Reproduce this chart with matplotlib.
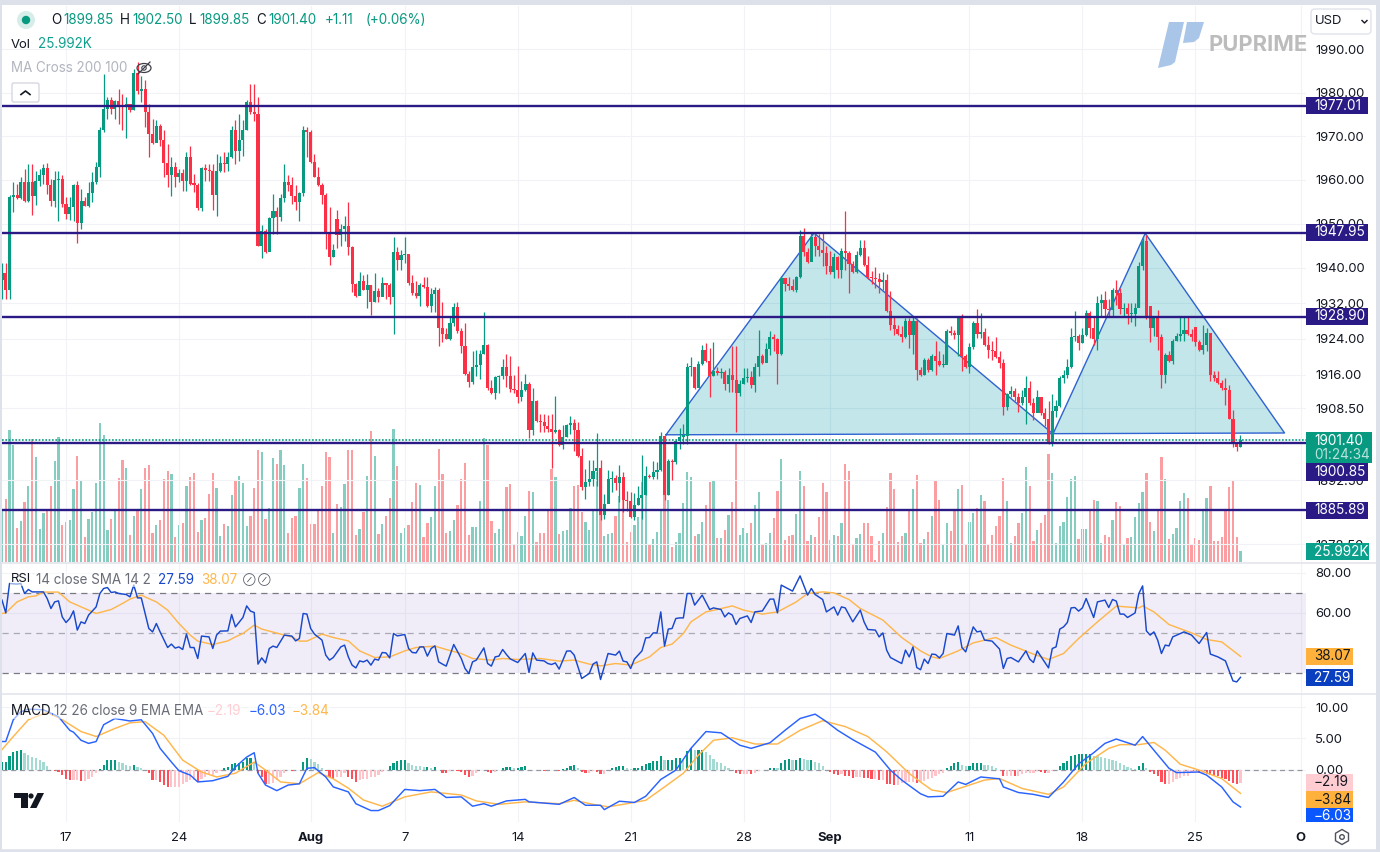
import matplotlib
matplotlib.use('Agg')
import matplotlib.pyplot as plt
from matplotlib.patches import Rectangle, Circle, Ellipse, Polygon, FancyBboxPatch, RegularPolygon
import numpy as np

plt.rcParams['font.family'] = ['Inter', 'DejaVu Sans']

# values, one entry per 4h bar
first_open = 1937.2
open_gaps = {89: 1951.0, 305: 1931.4, 317: 1926.6, 329: 1899.85}

closes = [
    1938.8, 1935, 1956, 1956.6, 1955.9, 1959.6, 1955.2, 1959.6, 1956.4, 1959.8,
    1961.1, 1962.7, 1958.7, 1955.2, 1960, 1960.2, 1954.5, 1952.2, 1953.9, 1958.7,
    1950.1, 1955.2, 1954.1, 1957, 1959.4, 1963, 1971.3, 1976.2, 1978.4, 1976.2,
    1978.1, 1976.8, 1976.6, 1977.4, 1976, 1984.6, 1980.4, 1980.8, 1975.6, 1970.5,
    1968.4, 1972.4, 1969, 1963.8, 1961.1, 1962.9, 1960.6, 1961.5, 1959.8, 1965.3,
    1959, 1958.9, 1953.6, 1962.6, 1962.3, 1961.9, 1956.6, 1962, 1963.9, 1963.5,
    1965.2, 1971.4, 1966.5, 1969.1, 1971.3, 1977.8, 1975.5, 1975.1, 1945, 1948.4,
    1943.6, 1951.2, 1952.8, 1951.4, 1955.9, 1959.6, 1958.7, 1956.4, 1954.9, 1956.9,
    1971.3, 1970.9, 1964, 1960.7, 1958.7, 1956.6, 1947.8, 1942.4, 1944, 1947.5,
    1948.8, 1949.5, 1944.7, 1936.3, 1933.6, 1936.9, 1935, 1936, 1932.3, 1934.7,
    1933.4, 1936.5, 1936.2, 1933.4, 1943.6, 1941.7, 1942.9, 1943.1, 1936.5, 1934.3,
    1933.6, 1936, 1935.6, 1931.4, 1934, 1935, 1926.4, 1925.1, 1924, 1927.6,
    1931.2, 1925.7, 1922.4, 1916.1, 1914.3, 1917.8, 1918.2, 1920.7, 1922.6, 1913.1,
    1911.8, 1915.4, 1915.6, 1917.6, 1915.6, 1912.8, 1912.6, 1911, 1912.6, 1913.9,
    1903.7, 1910, 1905.7, 1905.4, 1904.5, 1903.8, 1903.2, 1903.7, 1900.3, 1902.2,
    1904.7, 1905.2, 1903.7, 1897.8, 1891, 1892.1, 1892.8, 1894.5, 1895.3, 1884.8,
    1887.4, 1892.9, 1893, 1891.9, 1893.2, 1888.1, 1888, 1884.5, 1887.2, 1888.7,
    1889.4, 1893.4, 1893.2, 1894.3, 1894.8, 1902.4, 1889.4, 1896.8, 1896.5, 1901.2,
    1902.2, 1902.4, 1917.6, 1917.8, 1913, 1918.4, 1921.4, 1919.1, 1915.6, 1916.9,
    1916.3, 1916.6, 1913.9, 1915.8, 1914.8, 1911.8, 1914, 1915.2, 1915.4, 1913.6,
    1917.8, 1920.1, 1918.6, 1921.8, 1924.4, 1924, 1920.5, 1937.8, 1936.3, 1935.9,
    1935, 1937.9, 1947.2, 1943.6, 1941.2, 1947, 1944.9, 1944.1, 1943.4, 1940.3,
    1939.1, 1942.4, 1939.6, 1943.9, 1943.4, 1940.9, 1939.1, 1942.9, 1944.4, 1940.6,
    1937.9, 1937.6, 1937.4, 1936.8, 1937.2, 1930.3, 1927.2, 1926.1, 1925.1, 1924.4,
    1928.1, 1924.8, 1928.1, 1917.1, 1916, 1919.3, 1917.1, 1920.1, 1919.1, 1918.1,
    1918.2, 1925.7, 1925.2, 1924.9, 1928.6, 1920.1, 1917.6, 1922.1, 1927.6, 1925.1,
    1925.6, 1922.6, 1921.6, 1921.2, 1919.9, 1918.6, 1908.7, 1911.7, 1912.4, 1910.9,
    1909.7, 1910.9, 1913.1, 1909.6, 1907.5, 1910.9, 1907.5, 1906.2, 1901, 1907.9,
    1908.9, 1915.2, 1916, 1917.7, 1924.4, 1924.6, 1923.1, 1924.9, 1929.9, 1926.5,
    1923.9, 1932.1, 1932.7, 1930.8, 1930.5, 1934.9, 1934.4, 1930.6, 1931, 1929.5,
    1929.6, 1931, 1940.4, 1946, 1928.7, 1926.5, 1928.9, 1924.4, 1916, 1920.3,
    1919, 1923.6, 1924.6, 1925.1, 1925.9, 1925, 1924.4, 1923.3, 1921.6, 1922.6,
    1925.4, 1915.8, 1915.2, 1914.2, 1913, 1912.6, 1906.2, 1900.7, 1899.9, 1901.4,
]

highs = [
    1941, 1941, 1956.5, 1959.4, 1959, 1960.6, 1962.5, 1963.5, 1963.6, 1962.1,
    1962.5, 1963.5, 1963.9, 1960.2, 1962, 1962.1, 1961.2, 1956, 1956, 1959,
    1959.8, 1957.9, 1956, 1959.4, 1961.7, 1964, 1972.2, 1984.2, 1979, 1978.9,
    1978.4, 1980.8, 1979.7, 1978.9, 1977.4, 1985.4, 1987, 1983.9, 1983, 1977.4,
    1974, 1973.7, 1972.8, 1971.3, 1968.2, 1965.2, 1964, 1962.5, 1962.5, 1966.3,
    1967.8, 1961.3, 1959.2, 1962.9, 1963.6, 1963.6, 1963.6, 1965.8, 1965.5, 1966.3,
    1966.3, 1972.4, 1973.7, 1975, 1973.6, 1978.3, 1982, 1982, 1979, 1949.8,
    1948.8, 1951.4, 1956.7, 1953.7, 1956.8, 1963.5, 1961, 1960.6, 1958.7, 1957.2,
    1972.4, 1972, 1971.3, 1965.9, 1962.9, 1959.2, 1957, 1953.7, 1945.3, 1953,
    1950, 1951.8, 1954.9, 1945, 1936.5, 1939, 1938.4, 1938.6, 1936, 1938.8,
    1935.5, 1937.9, 1936.5, 1936.6, 1947, 1944.7, 1944, 1947, 1943, 1938.4,
    1937, 1936.5, 1938, 1938, 1935.4, 1935.6, 1935.4, 1932.2, 1926.5, 1928.8,
    1932.1, 1932.3, 1926.5, 1927.6, 1916.7, 1921.2, 1921.4, 1921.6, 1930, 1922.8,
    1914.8, 1915.6, 1916, 1919.5, 1920.7, 1920.2, 1916, 1917.9, 1914.5, 1916.1,
    1914.4, 1913, 1910.3, 1907.3, 1907.3, 1907, 1907.2, 1911.2, 1903.9, 1904.7,
    1905.1, 1906.7, 1906.2, 1905.4, 1899.6, 1895, 1897, 1897, 1903, 1897,
    1889.6, 1894.8, 1894.6, 1893.8, 1896, 1894.3, 1890.2, 1890, 1889.7, 1891.3,
    1898.1, 1895.7, 1894, 1896.8, 1896.5, 1903.3, 1902.5, 1897.2, 1897.3, 1901.6,
    1904, 1905, 1918.6, 1920, 1917.8, 1919.1, 1922.6, 1923.1, 1922, 1923.3,
    1917.8, 1917.5, 1917.1, 1917.5, 1922.4, 1922.4, 1914.8, 1917.5, 1917.5, 1916.8,
    1918.6, 1925.9, 1920.5, 1923.1, 1925.7, 1925, 1924.2, 1938.1, 1937.6, 1937.9,
    1937.4, 1938.2, 1948.5, 1948.9, 1944.5, 1947.9, 1947.6, 1947.6, 1947.8, 1945,
    1943.8, 1943.4, 1942.7, 1944.4, 1952.8, 1943.8, 1941.5, 1943.9, 1946.2, 1946.4,
    1942.7, 1939.3, 1940.2, 1938.9, 1939, 1938.5, 1934.8, 1928.8, 1927.2, 1926.8,
    1928.6, 1928.7, 1929, 1928.6, 1917.8, 1919.7, 1919.7, 1920.5, 1923.5, 1921.2,
    1920.6, 1926.1, 1926.9, 1926, 1928.9, 1929.5, 1920.6, 1923.1, 1928, 1930.6,
    1929.9, 1926.5, 1924.6, 1923.5, 1924.4, 1921.2, 1919.4, 1911.9, 1913.5, 1913,
    1911.8, 1912.6, 1915.6, 1914.5, 1910.7, 1912.6, 1911.1, 1908.5, 1910.1, 1911.6,
    1910.4, 1915.6, 1917.1, 1919.4, 1926.5, 1930.2, 1925, 1926.5, 1930.4, 1930.2,
    1929.1, 1933.6, 1934, 1934.8, 1933, 1935.4, 1937.2, 1935.4, 1932.1, 1932.1,
    1932, 1932.1, 1941.2, 1947.2, 1947.5, 1931.4, 1929.1, 1930.4, 1925, 1920.9,
    1921.2, 1923.9, 1925.4, 1928.8, 1928.8, 1929.1, 1926.1, 1926.6, 1923.8, 1927.1,
    1926.5, 1925.4, 1916.9, 1916.7, 1914.8, 1915.2, 1913.6, 1908.1, 1901.1, 1902.5,
]

lows = [
    1933, 1933, 1933, 1952.6, 1955.5, 1955.6, 1954.9, 1955, 1952, 1954.3,
    1958.5, 1959, 1956.8, 1954, 1953.7, 1950.7, 1953.7, 1951, 1950.9, 1950.7,
    1945.5, 1948.8, 1954, 1953.7, 1954.9, 1959, 1960.6, 1970.9, 1974, 1975,
    1974, 1972.8, 1971.3, 1969.6, 1975.6, 1976, 1979.8, 1977.8, 1972, 1965.2,
    1968.2, 1969, 1967.8, 1960.6, 1958.3, 1956.4, 1958.3, 1959.4, 1957.5, 1957.5,
    1958.9, 1957.2, 1953, 1952.8, 1959.8, 1959.8, 1953, 1951.8, 1961.8, 1961.8,
    1962, 1965, 1963.6, 1964.3, 1965.5, 1971.3, 1975, 1973.4, 1945, 1942.1,
    1943.4, 1945, 1947.6, 1947.6, 1950.5, 1955, 1957.5, 1954.5, 1953, 1950.7,
    1956.4, 1965.2, 1963.9, 1960.6, 1958.5, 1954.5, 1944.2, 1940.7, 1942.4, 1944.4,
    1945, 1946, 1943, 1934.6, 1933.5, 1933.9, 1934.9, 1931, 1929.3, 1932.2,
    1932.2, 1933.6, 1933, 1931.9, 1925, 1939.5, 1939.5, 1941, 1936, 1933.8,
    1933.2, 1931.4, 1935.5, 1931.2, 1930, 1930, 1922.5, 1923.3, 1923.9, 1923.7,
    1926.9, 1925.4, 1920.9, 1916, 1913.3, 1914, 1915.6, 1915.1, 1920.5, 1912.6,
    1911.6, 1910.5, 1911.8, 1915.1, 1913.3, 1912.1, 1911.8, 1909.7, 1910, 1912.4,
    1901.8, 1902.6, 1905.4, 1903.2, 1903.2, 1903.2, 1895.3, 1903, 1900.1, 1899.5,
    1902, 1902.8, 1899, 1897.7, 1890.3, 1888.5, 1891.2, 1891.2, 1891.2, 1883.8,
    1884, 1887.8, 1890, 1890.3, 1887.8, 1885.5, 1885.8, 1884.2, 1883.7, 1887,
    1884, 1889.2, 1893, 1892.8, 1892.8, 1894.6, 1888.3, 1889.3, 1892.7, 1896.2,
    1899.4, 1900.6, 1900.6, 1915.6, 1912.8, 1915.6, 1918.2, 1918.9, 1911, 1915.6,
    1916, 1915.2, 1912.6, 1912.2, 1912.2, 1903.2, 1911.2, 1914, 1914.4, 1913,
    1912.1, 1915.6, 1918.4, 1918.8, 1920.3, 1921.2, 1913.9, 1920.3, 1934.8, 1935,
    1934.8, 1934.6, 1937.6, 1942.7, 1941, 1941.5, 1942.6, 1942.6, 1940.4, 1938.7,
    1938.7, 1937.8, 1937.8, 1937.8, 1939.6, 1934.4, 1938.9, 1938.9, 1942.7, 1940.4,
    1937.4, 1936.3, 1935.5, 1934.4, 1935, 1930, 1926, 1924.8, 1924.8, 1923.4,
    1924.2, 1922, 1920.6, 1914.8, 1915.6, 1915.9, 1916.6, 1916.7, 1915.8, 1917.9,
    1917.8, 1918.7, 1924.8, 1923.9, 1920.1, 1916.7, 1917.5, 1916.3, 1921.8, 1924.1,
    1924.1, 1922.4, 1919.7, 1919.3, 1919.7, 1917.5, 1907.1, 1908.1, 1911.1, 1910,
    1907.7, 1909.2, 1905.1, 1909.2, 1905.8, 1907.7, 1907, 1904.5, 1900.6, 1900.2,
    1906.6, 1908.8, 1914.1, 1915.2, 1917.5, 1923.5, 1921.6, 1923.1, 1924.6, 1924.2,
    1922.7, 1921.6, 1929.1, 1928.8, 1929, 1928.8, 1931.7, 1929.5, 1929.1, 1927.4,
    1927.8, 1926.9, 1931.2, 1939.5, 1928.4, 1923.3, 1924.6, 1921.6, 1913, 1914.1,
    1918.8, 1918.4, 1923.5, 1923.5, 1923.5, 1924.8, 1923.5, 1922.4, 1921.2, 1920.5,
    1921.2, 1914.5, 1914.6, 1913.9, 1912.6, 1909.2, 1906, 1899.8, 1898.9, 1899.85,
]

volume_k = [
    123, 149, 312, 276, 80, 97, 142, 179, 290, 248,
    78, 116, 120, 179, 238, 295, 87, 94, 99, 172,
    250, 194, 59, 102, 118, 187, 328, 300, 76, 102,
    123, 198, 241, 222, 64, 109, 123, 172, 222, 229,
    68, 87, 99, 196, 215, 208, 59, 87, 92, 179,
    201, 210, 71, 99, 104, 161, 210, 175, 61, 90,
    85, 158, 191, 203, 187, 85, 109, 175, 264, 260,
    102, 127, 246, 231, 264, 229, 68, 104, 109, 175,
    231, 198, 90, 90, 123, 179, 260, 248, 68, 137,
    130, 184, 264, 264, 64, 78, 118, 203, 309, 250,
    66, 90, 109, 151, 314, 227, 68, 80, 87, 142,
    187, 182, 59, 92, 106, 179, 267, 208, 68, 73,
    99, 135, 196, 233, 64, 83, 83, 144, 292, 276,
    97, 68, 78, 123, 177, 184, 42, 71, 61, 109,
    168, 165, 47, 68, 68, 123, 220, 201, 66, 73,
    76, 127, 179, 182, 118, 94, 76, 123, 212, 139,
    61, 66, 68, 109, 156, 154, 47, 71, 87, 106,
    189, 170, 42, 54, 71, 123, 170, 146, 35, 47,
    68, 139, 212, 201, 61, 66, 94, 135, 189, 191,
    57, 57, 76, 111, 142, 283, 64, 80, 68, 92,
    135, 165, 42, 45, 68, 104, 168, 243, 52, 61,
    64, 113, 215, 179, 50, 64, 59, 106, 187, 165,
    52, 64, 61, 92, 231, 215, 40, 57, 66, 92,
    92, 61, 5, 50, 68, 130, 210, 172, 47, 61,
    69, 121, 172, 205, 44, 54, 71, 109, 194, 146,
    40, 93, 73, 121, 172, 182, 40, 94, 116, 127,
    158, 144, 40, 64, 85, 109, 198, 144, 45, 61,
    93, 116, 224, 179, 50, 76, 93, 111, 255, 210,
    45, 85, 94, 153, 196, 203, 54, 78, 78, 123,
    146, 144, 45, 64, 59, 99, 142, 132, 42, 57,
    59, 106, 139, 165, 210, 94, 73, 120, 248, 196,
    54, 66, 80, 144, 163, 151, 40, 57, 52, 123,
    151, 179, 50, 50, 59, 123, 177, 191, 59, 26,
]

rsi_bars = [
    0, 1, 2, 4, 5, 6, 7, 8, 11, 12,
    13, 14, 15, 16, 17, 18, 19, 20, 21, 22,
    23, 25, 26, 27, 28, 29, 30, 31, 33, 34,
    35, 36, 37, 39, 40, 41, 42, 44, 45, 46,
    47, 48, 49, 50, 51, 52, 53, 55, 56, 57,
    58, 60, 61, 62, 64, 65, 66, 67, 68, 69,
    70, 71, 72, 73, 75, 77, 78, 79, 80, 81,
    82, 83, 85, 86, 87, 88, 90, 91, 92, 93,
    94, 95, 96, 97, 98, 99, 100, 101, 102, 103,
    104, 105, 107, 108, 109, 110, 111, 112, 113, 114,
    115, 116, 117, 118, 120, 122, 123, 124, 125, 126,
    128, 129, 130, 131, 132, 133, 134, 135, 137, 139,
    140, 141, 142, 144, 145, 146, 147, 148, 150, 151,
    152, 154, 156, 157, 158, 159, 161, 163, 164, 165,
    166, 167, 168, 170, 171, 172, 173, 174, 175, 176,
    177, 178, 179, 180, 181, 182, 183, 184, 186, 188,
    189, 191, 192, 193, 194, 195, 196, 198, 199, 200,
    202, 204, 205, 206, 207, 210, 212, 214, 215, 216,
    218, 219, 221, 222, 223, 224, 226, 228, 229, 230,
    232, 233, 234, 235, 236, 239, 240, 241, 242, 243,
    244, 245, 246, 247, 248, 249, 250, 251, 253, 254,
    255, 256, 258, 259, 260, 261, 263, 265, 266, 267,
    268, 270, 272, 273, 274, 275, 278, 279, 280, 281,
    282, 283, 284, 285, 286, 287, 288, 290, 291, 293,
    294, 295, 296, 297, 298, 299, 301, 302, 303, 304,
    305, 306, 307, 308, 309, 310, 311, 313, 314, 316,
    318, 320, 321, 323, 325, 327, 328, 329,
]
rsi_values = [
    66.2, 59.8, 74.5, 74.2, 74.5, 69.5, 71.5, 70.3, 70.3, 67,
    62, 65.3, 65.8, 57.8, 55, 57, 60.8, 51.2, 55.3, 54.5,
    58.7, 62.8, 69.5, 72, 72.5, 70, 70.3, 69.5, 69, 67.8,
    73.7, 67.3, 67.3, 52, 50.3, 54.5, 50.3, 42.5, 44.2, 42.2,
    42.8, 41.5, 49.2, 42.5, 42.5, 37, 48.2, 47.8, 42, 48.7,
    50.7, 50.8, 59, 52.8, 57.5, 63.3, 60.7, 60, 34.2, 37.3,
    34.8, 42, 43.2, 42.5, 48.7, 48.2, 45.8, 47, 59.5, 59.2,
    52, 49.2, 46.2, 38.7, 36.2, 37.5, 42.8, 43.7, 37.8, 33.7,
    32.3, 35.8, 35.3, 36.2, 33.7, 36.7, 36.2, 40, 39.8, 37.3,
    49.5, 48.3, 49, 42, 40, 39.8, 42.8, 42.8, 38.2, 42,
    43.3, 35.3, 34.2, 33.2, 44, 37, 32, 29.5, 35.3, 36.2,
    42.3, 34.5, 33.2, 37.8, 38.2, 41.5, 39, 36.8, 35, 39.5,
    30, 39.8, 36.2, 35.8, 34.5, 34, 34.8, 31.7, 40.7, 40.8,
    38.7, 27, 29.5, 34.2, 35.3, 26.5, 39.5, 38.7, 40.7, 35.7,
    35.3, 32, 36.7, 40.8, 47.3, 47.5, 49.8, 49.8, 60.3, 43.2,
    51.7, 52, 57, 57.3, 57.3, 69.5, 69.5, 63.7, 68.7, 61.5,
    62.3, 61.5, 57.8, 59.8, 58.7, 54, 57, 58.3, 55, 60.3,
    60.8, 66.7, 66.7, 59.8, 73.7, 70.7, 78.3, 68.7, 72, 69,
    66.5, 60.3, 62.8, 58.7, 62.8, 62.3, 55.3, 61.2, 55.3, 51.5,
    51.2, 47.8, 49.8, 41.2, 37.5, 34.5, 41.2, 37.8, 42.8, 32.5,
    31.4, 36.7, 34.5, 39.2, 39, 37.3, 39.5, 49.5, 48.7, 53.3,
    42.5, 40.3, 52.8, 50.3, 50.7, 46.2, 45.7, 41.7, 32, 37,
    37.5, 35.3, 40.8, 36.7, 35, 40.8, 32.3, 42, 42.8, 51.7,
    52.8, 55, 62.3, 62.5, 60.7, 62.3, 67, 57.5, 65.3, 66.2,
    62.5, 66.5, 65.7, 59.2, 59.2, 57.5, 59.8, 69.5, 73.3, 50.8,
    48.7, 50.3, 46.2, 39.5, 43.7, 43.3, 47.8, 49.5, 50.3, 48.7,
    44.5, 50, 39.2, 37.8, 35.8, 25.8, 25.3, 27.59,
]

rsi_sma_bars = [
    0, 1, 4, 7, 9, 11, 15, 18, 22, 25,
    29, 32, 34, 37, 38, 41, 44, 47, 50, 52,
    56, 60, 62, 64, 67, 69, 74, 77, 79, 81,
    85, 88, 92, 95, 99, 103, 107, 110, 115, 118,
    122, 125, 130, 133, 137, 143, 148, 152, 156, 159,
    163, 167, 172, 175, 178, 181, 183, 187, 190, 194,
    197, 202, 206, 211, 214, 218, 221, 225, 228, 234,
    239, 244, 247, 249, 254, 258, 264, 268, 274, 278,
    282, 286, 291, 296, 302, 303, 306, 310, 316, 320,
    324, 329,
]
rsi_sma_values = [
    59.5, 59.8, 65.3, 67.8, 68.3, 70.2, 70.2, 65.3, 62, 59.5,
    61.5, 64.5, 66.7, 68.7, 67.8, 65.3, 61.2, 54.5, 48.7, 45.7,
    44, 45.8, 47.8, 49.5, 53.7, 51.7, 49.2, 47.8, 45.7, 45.7,
    49.2, 47.5, 45.8, 40.8, 37.5, 37.8, 40.8, 42.5, 43.2, 41.5,
    39.5, 37, 36.2, 37, 36.5, 37, 35.7, 36.2, 34.2, 33.3,
    34.5, 33.7, 37.8, 42.5, 44.2, 49.5, 55.3, 60.3, 61.5, 63.3,
    61.2, 59.2, 60.3, 65.3, 69.5, 70.3, 69.8, 66.5, 62, 56.2,
    47.5, 40.8, 37.8, 37, 40.8, 44.8, 47.5, 43.7, 39.2, 36.5,
    39.5, 47, 55.3, 63.2, 62.3, 63.3, 60.3, 54, 49.8, 46.5,
    45.3, 38.07,
]

macd_bars = [
    0, 1, 3, 5, 7, 11, 15, 18, 19, 21,
    23, 25, 27, 30, 34, 37, 40, 42, 45, 47,
    50, 52, 56, 60, 62, 65, 67, 68, 70, 73,
    76, 79, 81, 83, 86, 88, 92, 94, 98, 100,
    103, 107, 111, 115, 118, 122, 125, 128, 130, 134,
    139, 140, 148, 152, 155, 159, 160, 164, 168, 171,
    175, 179, 183, 187, 191, 196, 199, 204, 208, 212,
    216, 219, 222, 226, 232, 236, 239, 244, 246, 250,
    254, 256, 260, 265, 266, 270, 274, 278, 282, 286,
    290, 293, 296, 301, 303, 306, 310, 312, 318, 320,
    324, 327, 329,
]
macd_values = [
    4.5, 4.5, 8, 9.3, 9.7, 9.6, 8.5, 6.3, 6, 4.7,
    4.2, 4.5, 7.2, 8.2, 7.8, 8, 5.8, 3.4, 1.2, -0.2,
    -0.9, -2, -1.8, -1.1, 0.4, 2, 2.7, -0.6, -2.5, -3.4,
    -2.5, -2.3, 0.2, 0.3, -1.2, -2.8, -3.6, -5.5, -6.6, -6.6,
    -5.8, -3.2, -3.4, -3.2, -4.5, -4.4, -5.9, -5.5, -5.9, -5.05,
    -4.8, -5.2, -5.6, -4.5, -5.75, -5.75, -6.45, -5.1, -5.3, -4.3,
    -1.6, -0.1, 3.4, 6.1, 5.9, 3.9, 3.4, 4.3, 6.3, 8.2,
    8.9, 7.7, 6.3, 4.8, 2.8, -0.1, -1.7, -3.9, -4.4, -4.3,
    -2, -2.4, -1.2, -1.5, -2.8, -3.7, -4, -4.5, -2, 0.9,
    2.7, 4.2, 4.9, 3.9, 5.3, 3.1, 0.2, -0.5, -0.4, -0.9,
    -2.8, -5.2, -6.03,
]

signal_bars = [
    0, 3, 7, 12, 16, 21, 25, 30, 34, 38,
    43, 48, 53, 57, 62, 67, 70, 74, 79, 84,
    88, 92, 96, 101, 107, 114, 122, 126, 132, 139,
    148, 152, 157, 161, 166, 171, 176, 181, 185, 189,
    194, 200, 206, 212, 218, 224, 230, 235, 241, 244,
    247, 251, 256, 261, 265, 271, 278, 282, 288, 294,
    297, 302, 306, 309, 313, 318, 324, 329,
]
signal_values = [
    3.2, 5.3, 8, 9.2, 8, 6.1, 5.3, 6.6, 7.5, 7.7,
    5.5, 1.5, -0.4, -1.2, -0.6, 1.2, -0.1, -2, -2.3, -0.5,
    -1.5, -3, -4.9, -5.9, -4.4, -3.6, -4.1, -5.05, -5.6, -5.2,
    -5.5, -4.95, -5.6, -6, -5.5, -4.95, -2.8, -0.6, 2.3, 4.7,
    5.1, 4.1, 4.1, 6.3, 7.85, 6.9, 5.3, 2.85, -0.65, -2,
    -3.3, -3.7, -2.7, -1.7, -1.45, -3.05, -4, -2.8, 1, 3.4,
    4, 4, 4.35, 3.1, 0.85, -0.1, -1.45, -3.84,
]

hist_values = [
    1.2, 1.2, 2.1, 2.8, 3, 3.1, 2.6, 2.4, 2, 1.8,
    1.5, 1.2, 0.6, 0, -0.2, -0.4, -0.9, -1.6, -1.7, -1.7,
    -1.7, -1.8, -1.8, -1.5, -1.2, -0.6, 0.1, 0.7, 1.5, 1.5,
    1.5, 1.2, 1, 0.7, 0.6, 0.7, 0.4, 0.3, -0.1, -0.6,
    -1.7, -1.7, -2, -2.5, -2.8, -2.8, -2.8, -2.8, -2.3, -2,
    -1.7, -1.7, -2, -1.45, -1.2, -0.9, -0.9, -0.5, -0.2, 0.3,
    0.4, 0.9, 1.1, 1.1, 1.2, 1.8, 1.8, 1.2, -0.6, -1.2,
    -2.4, -2.3, -2.15, -1.7, -1.2, -0.6, -0.1, -0.2, -0.1, 0,
    1.2, 1.9, 1.7, 1.2, 0.9, 0.3, -0.2, -1.2, -1.45, -1.2,
    -1.2, -0.6, -1.2, -1.45, -2, -1.7, -1.6, -1.45, -1.2, -1.2,
    -0.9, -0.4, 0, 0.5, 1, 1.3, 1.5, 1.6, 1.1, 0.7,
    0.6, 0.5, 0.4, 0.4, 0.3, 0.4, -0.1, -0.5, -0.6, -0.2,
    -0.1, -0.2, -0.4, -0.9, -1.2, -1, -0.6, 0, -0.1, -0.4,
    -0.5, -0.4, 0, 0.2, 0.4, 0.4, 0.3, 0.3, 0.4, 0.5,
    0, -0.1, -0.1, -0.15, -0.2, -0.1, -0.1, -0.15, -0.25, 0.05,
    0.3, 0.6, 0.7, 0.3, -0.4, -0.5, -0.5, -0.3, -0.4, -0.7,
    -0.7, 0, 0.2, 0.4, 0.5, 0.5, 0.3, 0.1, 0.2, 0.3,
    0.5, 0.9, 1.1, 1.3, 1.4, 2.1, 1.5, 1.5, 1.6, 1.9,
    1.9, 1.6, 2.9, 3.4, 3.2, 3.2, 3.2, 2.8, 2.3, 1.7,
    1.2, 1.1, 0.6, 0.3, 0, -0.6, -0.7, -0.7, -0.7, -0.8,
    -0.5, -0.3, -0.1, 0, 0.2, 0.3, 0.2, 1, 1.5, 1.7,
    1.6, 1.6, 1.9, 1.7, 1.6, 1.6, 1.2, 1, 0.6, -0.05,
    -0.4, -0.7, -0.9, -0.8, -1, -1.1, -1.4, -1.2, -1.2, -1.3,
    -1.4, -1.6, -1.6, -1.7, -1.7, -2.3, -2.4, -2.5, -2.5, -2.2,
    -2, -2, -2, -2.1, -2, -1.9, -1.6, -1.3, -1, -0.8,
    -0.5, 0.2, 0.6, 1, 1.2, 0.8, 0.5, 0.6, 1, 1.1,
    1.1, 0.8, 0.7, 0.5, 0.3, 0, -1, -1, -1, -1.1,
    -1.1, -0.7, -0.5, -0.5, -0.5, -0.3, -0.4, -0.6, -0.6, -0.2,
    0, 0.6, 1, 1.3, 2.1, 2.4, 2.5, 2.5, 2.5, 2.5,
    2.2, 2.1, 2, 1.8, 1.7, 1.6, 1.4, 1, 0.8, 0.4,
    0.2, 0.1, 0.5, 1, 0.2, -0.4, -0.8, -1.1, -2, -2.3,
    -2.3, -2, -1.6, -1.3, -1.1, -1, -0.5, -0.3, -0.6, -0.6,
    -0.8, -0.9, -1, -1.1, -1.3, -1.5, -1.8, -2.2, -2.3, -2.19,
]

level_prices = [1977.01, 1947.95, 1928.90, 1900.85, 1885.89]
last_price = 1901.40
pattern_bars = [176.4, 215.7, 279.2, 303.7, 340.7]
pattern_prices = [1902.6, 1947.9, 1902.8, 1947.8, 1903.0]

price_ticks = [1990, 1980, 1970, 1960, 1950, 1940, 1932, 1924, 1916, 1908.5, 1892.5, 1878.5]
rsi_ticks = [80, 60]
macd_ticks = [10, 5, 0]
time_tick_bars = [17, 47, 82, 107, 137, 167, 197, 220, 257, 287, 317, 345]
time_tick_labels = ['17', '24', 'Aug', '7', '14', '21', '28', 'Sep', '11', '18', '25', 'O']
bold_labels = ['Aug', 'Sep', 'O']

GREEN = '#089981'
RED = '#fb2f45'
NAVY = '#2a1a86'
GRID = '#f0f2f6'
INK = '#131722'
FS = 9.4

bars = np.arange(len(closes))
closes = np.array(closes)
highs = np.array(highs)
lows = np.array(lows)
opens = np.concatenate([[first_open], closes[:-1]])
for k, v in open_gaps.items():
    opens[k] = v
hist_values = np.array(hist_values)
volume_k = np.array(volume_k)
is_up = closes >= opens


def pane(top, bottom, left=2, right=1306, z=1):
    ax = fig.add_axes([left / 1380, 1 - bottom / 852, (right - left) / 1380, (bottom - top) / 852], zorder=z)
    ax.patch.set_alpha(0)
    for s in ax.spines.values():
        s.set_visible(False)
    ax.set_xlim(0, 346.4)
    ax.set_xticks(time_tick_bars)
    ax.set_xticklabels([])
    ax.grid(True, color=GRID, lw=0.8, zorder=0)
    ax.set_axisbelow(True)
    ax.yaxis.tick_right()
    ax.tick_params(axis='both', length=0, labelsize=FS, labelcolor=INK, pad=6.5)
    return ax


fig = plt.figure(figsize=(13.8, 8.52), dpi=100, facecolor='#dde1ea')

back = fig.add_axes([0, 0, 1, 1], zorder=0)
back.set_xlim(0, 1380)
back.set_ylim(852, 0)
back.axis('off')
back.add_patch(Rectangle((2, 5), 1374, 845, fc='white', ec='none'))

# volume sits under the candles in the same pane
vol = pane(6, 562, z=1)
vol.set_ylim(0, 1313)
vol.set_yticks([])
vol.grid(False)
vol.set_xticks([])
vol_colors = np.where(is_up, '#84cdc0', '#fb9ea2')
vol.bar(bars, volume_k, width=0.6, color=vol_colors, linewidth=0)

price = pane(6, 562, z=2)
price.set_yscale('log')
price.set_ylim(1874.6, 2000.1)
price.yaxis.set_minor_locator(plt.NullLocator())
price.yaxis.set_minor_formatter(plt.NullFormatter())
price.set_yticks(price_ticks)
price.set_yticklabels(['%.2f' % p for p in price_ticks])

price.add_patch(Polygon(list(zip(pattern_bars, pattern_prices)), closed=True, fc=(0, 0.592, 0.655, 0.24),
                        ec='none', zorder=1))
price.plot(pattern_bars + pattern_bars[:1], pattern_prices + pattern_prices[:1], color='#2f62d2', lw=1, zorder=2)

candle_colors = np.where(is_up, GREEN, RED)
body_lo = np.minimum(opens, closes)
body_hi = np.maximum(np.maximum(opens, closes), body_lo + 0.25)
price.vlines(bars, lows, highs, colors=candle_colors, lw=0.9, zorder=3)
price.bar(bars, body_hi - body_lo, bottom=body_lo, width=0.82, color=candle_colors, linewidth=0, zorder=4)

for level in level_prices:
    price.axhline(level, color=NAVY, lw=1.7, zorder=5)
price.axhline(last_price, color=GREEN, lw=1.2, ls=(0, (1, 1)), zorder=6)

rsi = pane(563, 693, z=2)
rsi.set_ylim(19.75, 84.75)
rsi.set_yticks(rsi_ticks)
rsi.set_yticklabels(['%.2f' % t for t in rsi_ticks])
rsi.axhspan(30, 70, color='#7e57c2', alpha=0.1, lw=0, zorder=1)
rsi.axhline(70, color='#787b86', lw=0.9, ls=(0, (5, 4)), zorder=2)
rsi.axhline(50, color='#a8abb4', lw=0.9, ls=(0, (5, 4)), zorder=2)
rsi.axhline(30, color='#787b86', lw=0.9, ls=(0, (5, 4)), zorder=2)
rsi.plot(rsi_bars, rsi_values, color='#1848cc', lw=1.05, zorder=4)
rsi.plot(rsi_sma_bars, rsi_sma_values, color='#ffb74d', lw=1.05, zorder=3)

macd = pane(694, 822, z=2)
macd.set_ylim(-8.44, 12.14)
macd.set_yticks(macd_ticks)
macd.set_yticklabels(['%.2f' % t for t in macd_ticks])
macd.axhline(0, color='#9598a1', lw=0.9, ls=(0, (4, 3)), zorder=1)
hist_prev = np.concatenate([[hist_values[0]], hist_values[:-1]])
hist_colors = []
for h, p in zip(hist_values, hist_prev):
    if h >= 0:
        hist_colors.append('#089981' if h >= p else '#a3dbd2')
    else:
        hist_colors.append('#ffc4ca' if h >= p else '#ff4f58')
macd.bar(bars, hist_values, width=0.58, color=hist_colors, linewidth=0, zorder=2)
macd.plot(macd_bars, macd_values, color='#2962ff', lw=1.05, zorder=4)
macd.plot(signal_bars, signal_values, color='#ffb74d', lw=1.05, zorder=3)
macd.set_xticklabels(time_tick_labels)
macd.tick_params(axis='x', pad=7)
for lab in macd.get_xticklabels():
    if lab.get_text() in bold_labels:
        lab.set_fontweight('bold')

# chrome on top, drawn in picture pixels
ui = fig.add_axes([0, 0, 1, 1], zorder=5)
ui.set_xlim(0, 1380)
ui.set_ylim(852, 0)
ui.axis('off')
ui.patch.set_alpha(0)


def txt(x, y, s, color=INK, ha='left', weight='normal', size=FS, halo=False):
    box = dict(fc='white', ec='none', alpha=0.55, pad=0.5) if halo else None
    ui.text(x, y, s, color=color, ha=ha, va='center', fontweight=weight, fontsize=size, bbox=box)


def tag(y0, y1, s, fc, right=1368, color='white', ty=None):
    ui.add_patch(Rectangle((1306, y0), right - 1306, y1 - y0, fc=fc, ec='none'))
    txt(1314, (y0 + y1) / 2 if ty is None else ty, s, color=color, size=9.8)


for y, c in [(562.5, '#e0e3eb'), (693.5, '#e0e3eb'), (849.5, '#dde1ea')]:
    ui.plot([2, 1376], [y, y], color=c, lw=1.1)

# header line
ui.add_patch(Circle((26, 20), 9, fc='#d6ede9', ec='none'))
ui.add_patch(Circle((26, 20), 4.2, fc=GREEN, ec='none'))
for x, s, c in [(51, 'O', INK), (63, '1899.85', GREEN), (120, 'H', INK), (132, '1902.50', GREEN),
                (189, 'L', INK), (199, '1899.85', GREEN), (256, 'C', INK), (268, '1901.40', GREEN),
                (325, '+1.11', GREEN), (366, '(+0.06%)', GREEN)]:
    txt(x, 20, s, c, size=9.7)
txt(11, 44.5, 'Vol')
txt(38, 44.5, '25.992K', '#0fa08d', size=9.7)
txt(11, 68.5, 'MA Cross 200 100', '#b2b5be', size=9.7)
ui.add_patch(Ellipse((144, 68), 14, 9, fc='none', ec='#3c3f48', lw=0.9))
ui.plot([138, 150], [74, 62], color='#3c3f48', lw=0.9)
ui.add_patch(Circle((144, 68), 2.2, fc='none', ec='#3c3f48', lw=0.8))
ui.add_patch(FancyBboxPatch((12, 83), 27, 19, boxstyle='round,pad=0,rounding_size=2', fc='white', ec='#d1d4dc', lw=0.9))
ui.plot([21, 25.5, 30], [94.5, 91, 94.5], color=INK, lw=1.2)

# watermark
ui.add_patch(Polygon([(1169, 22), (1184, 22), (1175, 62), (1171, 65), (1158, 68)], fc='#a9c6e8', ec='none'))
ui.add_patch(Polygon([(1187, 22), (1204, 22), (1199, 38), (1194, 42), (1183, 43)], fc='#a9c6e8', ec='none'))
txt(1208, 45, 'PUPRIME', '#bcbcbc', weight='bold', size=15.8)

# currency box
ui.add_patch(FancyBboxPatch((1311, 9), 60, 25, boxstyle='round,pad=0,rounding_size=4', fc='white', ec='#e0e3eb', lw=1))
txt(1315, 21, 'USD')
ui.plot([1362, 1364.5, 1367], [20.5, 23, 20.5], color=INK, lw=1)

# price tags
tag(97, 114, '1977.01', NAVY)
tag(224, 241, '1947.95', NAVY)
tag(308, 325, '1928.90', NAVY)
ui.add_patch(Rectangle((1306, 432), 66, 31, fc=GREEN, ec='none'))
txt(1314, 441, '1901.40', 'white', size=9.8)
txt(1314, 455, '01:24:34', '#b9e3db', size=9.8)
tag(463, 481, '1900.85', NAVY)
tag(502, 519, '1885.89', NAVY)
tag(543, 560, '25.992K', '#0aa08c', right=1369)

# indicator legends
txt(11, 579.5, 'RSI', halo=True)
txt(36, 579.5, '14 close SMA 14 2', '#6a6d78', halo=True, size=9.7)
txt(158, 579.5, '27.59', '#1848cc', halo=True, size=9.7)
txt(201, 579.5, '38.07', '#ffb74d', halo=True, size=9.7)
txt(243, 579.5, '⊘', '#50535e', size=6.5)
txt(258, 579.5, '⊘', '#50535e', size=6.5)
tag(648, 665, '38.07', '#ffb13b', right=1353, color=INK)
tag(669, 686, '27.59', '#0a3fbf', right=1353)

txt(11, 711, 'MACD', halo=True, size=9.7)
txt(54, 711, '12 26 close 9 EMA EMA', '#6a6d78', halo=True, size=9.7)
txt(207, 711, '\u22122.19', '#ffcdd2', halo=True, size=9.7)
txt(249, 711, '\u22126.03', '#2962ff', halo=True, size=9.7)
txt(292, 711, '\u22123.84', '#ffb74d', halo=True, size=9.7)
tag(774, 791, '\u22122.19', '#ffccd1', right=1353, color=INK)
tag(791, 808, '\u22123.84', '#ffb13b', right=1353, color=INK)
tag(808, 822, '\u22126.03', '#0b57ff', right=1353, ty=816.5)

# tradingview mark
ui.add_patch(Polygon([(14, 793), (28, 793), (28, 808), (21, 808), (21, 798), (14, 798)], fc=INK, ec='none'))
ui.add_patch(Circle((31, 796), 2.6, fc=INK, ec='none'))
ui.add_patch(Polygon([(37.5, 793), (44, 793), (36.5, 808), (30, 808)], fc=INK, ec='none'))

# settings icon
ui.add_patch(RegularPolygon((1342, 837), 6, radius=7.5, fc='white', ec='#50535e', lw=1))
ui.add_patch(Circle((1342, 837), 2.3, fc='white', ec='#50535e', lw=1))

fig.savefig('out.png', dpi=100, facecolor=fig.get_facecolor())
